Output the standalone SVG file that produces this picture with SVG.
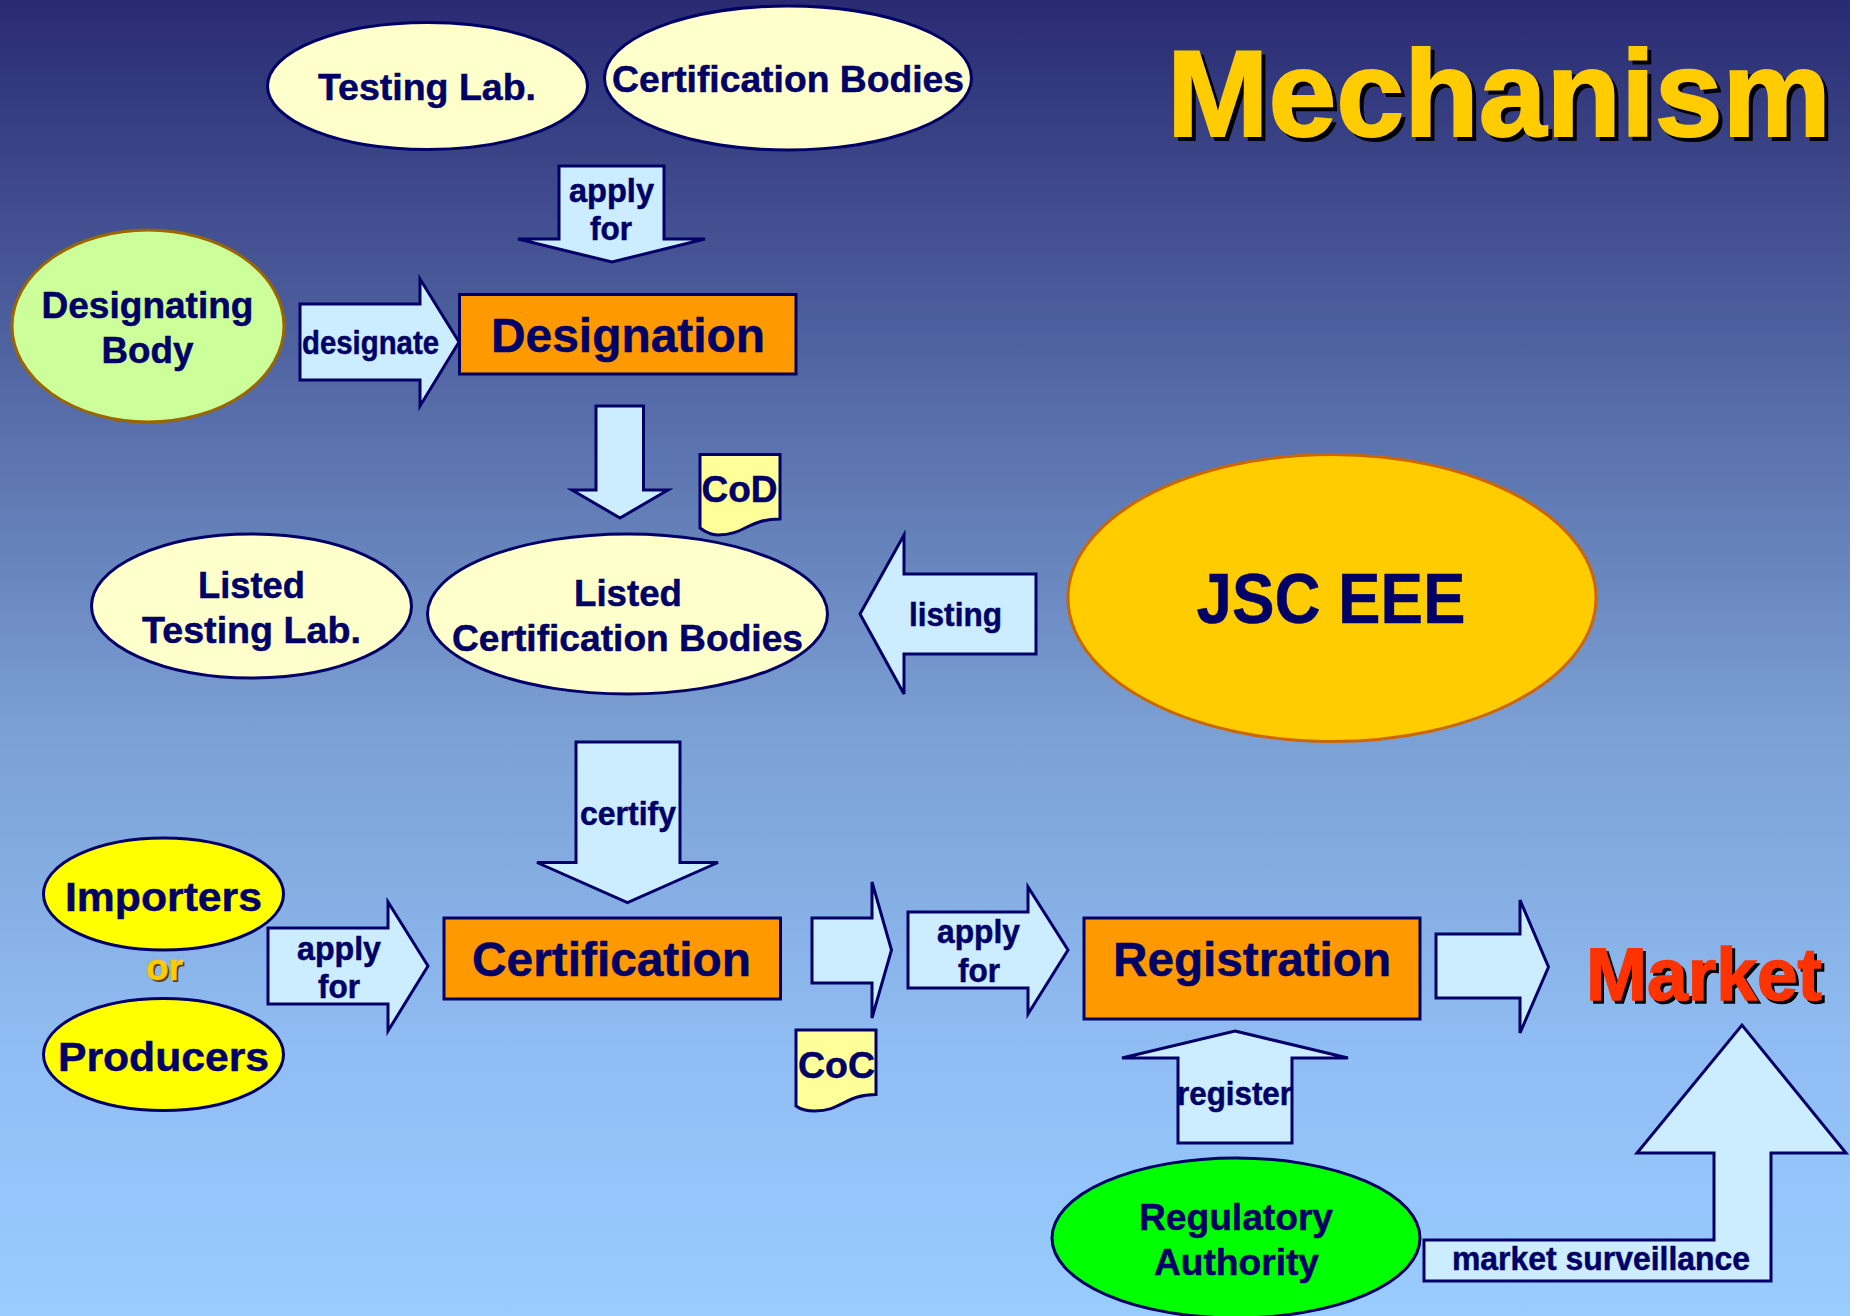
<svg xmlns="http://www.w3.org/2000/svg" width="1850" height="1316" viewBox="0 0 1850 1316">
<style>
text{font-family:"Liberation Sans",Arial,sans-serif;font-weight:700;fill:#000066;stroke:#000066;stroke-width:.5}
.s{stroke:#000066;stroke-width:3;stroke-linejoin:miter}
.ar{fill:#ccecff}
.cream{fill:#ffffcc}
.box{fill:#ff9900}
.yel{fill:#ffff00}
.doc{fill:#ffff99}
.f33{font-size:33px}.f37{font-size:37px}.f41{font-size:41px}.f48{font-size:48px}
</style>
<defs>
<linearGradient id="bg" x1="0" y1="0" x2="0" y2="1">
<stop offset="0" stop-color="#292b72"/>
<stop offset="0.55" stop-color="#7a9fd3"/>
<stop offset="0.8" stop-color="#90bdf3"/>
<stop offset="1" stop-color="#99ccff"/>
</linearGradient>
</defs>
<rect id="background" width="1850" height="1316" fill="url(#bg)"/>
<g id="connectors">
<g id="arrow-apply-1"><path class="s ar" d="M559 166H664V239H705L612 262L518 239H559Z"/><text class="f33" x="569" y="202" textLength="85" lengthAdjust="spacingAndGlyphs">apply</text><text class="f33" x="590" y="240" textLength="42" lengthAdjust="spacingAndGlyphs">for</text></g>
<g id="arrow-designate"><path class="s ar" d="M300 304H420V279L459 342L420 406V380H300Z"/><text class="f33" x="302" y="353.5" textLength="137" lengthAdjust="spacingAndGlyphs">designate</text></g>
<g id="arrow-cod"><path class="s ar" d="M596 406H643.5V490H668L620 518L572 490H596Z"/></g>
<g id="arrow-listing"><path class="s ar" d="M860 614L904 535V574H1036V654H904V694Z"/><text class="f33" x="909" y="626" textLength="93" lengthAdjust="spacingAndGlyphs">listing</text></g>
<g id="arrow-certify"><path class="s ar" d="M576 742H680V862.500H718L627.500 902.500L537 862.500H576Z"/><text class="f33" x="580" y="824.500" textLength="96" lengthAdjust="spacingAndGlyphs">certify</text></g>
<g id="arrow-apply-2"><path class="s ar" d="M268 928H388V902L428 966L388 1031V1004H268Z"/><text class="f33" x="297" y="959.500" textLength="84" lengthAdjust="spacingAndGlyphs">apply</text><text class="f33" x="318" y="997.500" textLength="42" lengthAdjust="spacingAndGlyphs">for</text></g>
<g id="arrow-coc"><path class="s ar" d="M812 918H872V882L891.500 950L872 1018V983H812Z"/></g>
<g id="arrow-apply-3"><path class="s ar" d="M908 912H1028V887L1068 950L1028 1014V988H908Z"/><text class="f33" x="937" y="943" textLength="83" lengthAdjust="spacingAndGlyphs">apply</text><text class="f33" x="958" y="982" textLength="42" lengthAdjust="spacingAndGlyphs">for</text></g>
<g id="arrow-market"><path class="s ar" d="M1436 934H1520V900L1548.500 967L1520 1033V998H1436Z"/></g>
<g id="arrow-register"><path class="s ar" d="M1235 1031L1348 1058H1292V1143H1178V1058H1122Z"/><text class="f33" x="1177" y="1104.500" textLength="115" lengthAdjust="spacingAndGlyphs">register</text></g>
<g id="arrow-surveillance"><path class="s ar" d="M1424 1240H1714V1153H1637L1742 1025L1846 1153H1771V1281H1424Z"/><text class="f33" x="1452" y="1270" textLength="298" lengthAdjust="spacingAndGlyphs">market surveillance</text></g>
</g>
<g id="title"><text x="1171" y="140" font-size="122" style="fill:#000;stroke:#000;stroke-width:2" textLength="664" lengthAdjust="spacingAndGlyphs">Mechanism</text><text x="1167" y="136" font-size="122" style="fill:#ffcc00;stroke:#ffcc00;stroke-width:2" textLength="664" lengthAdjust="spacingAndGlyphs">Mechanism</text></g>
<g id="testing-lab"><ellipse class="s cream" cx="427.500" cy="86" rx="160" ry="63.500"/><text class="f37" x="318" y="100" textLength="218" lengthAdjust="spacingAndGlyphs">Testing Lab.</text></g>
<g id="certification-bodies"><ellipse class="s cream" cx="788" cy="78" rx="183.500" ry="72"/><text class="f37" x="612" y="92" textLength="352" lengthAdjust="spacingAndGlyphs">Certification Bodies</text></g>
<g id="designating-body"><ellipse class="s" style="stroke:#996600" fill="#ccff99" cx="148" cy="326" rx="136" ry="96"/><text class="f37" x="41.500" y="318" textLength="212" lengthAdjust="spacingAndGlyphs">Designating</text><text class="f37" x="101.500" y="363" textLength="92" lengthAdjust="spacingAndGlyphs">Body</text></g>
<g id="designation"><rect class="s box" x="459.500" y="294.500" width="336.500" height="79.500"/><text class="f48" x="491" y="352" textLength="274" lengthAdjust="spacingAndGlyphs">Designation</text></g>
<g id="cod"><path class="s doc" d="M700 454.500H780V519C748 519 745 535 718 535C710 535 704 531 700 528Z"/><text class="f37" x="701.500" y="501.500" textLength="76" lengthAdjust="spacingAndGlyphs">CoD</text></g>
<g id="listed-testing-lab"><ellipse class="s cream" cx="251.500" cy="606" rx="160" ry="72"/><text class="f37" x="198" y="598" textLength="107" lengthAdjust="spacingAndGlyphs">Listed</text><text class="f37" x="142" y="643" textLength="219" lengthAdjust="spacingAndGlyphs">Testing Lab.</text></g>
<g id="listed-certification-bodies"><ellipse class="s cream" cx="627.500" cy="614" rx="200" ry="80"/><text class="f37" x="574" y="606" textLength="108" lengthAdjust="spacingAndGlyphs">Listed</text><text class="f37" x="452" y="650.500" textLength="351" lengthAdjust="spacingAndGlyphs">Certification Bodies</text></g>
<g id="jsc-eee"><ellipse class="s" style="stroke:#cc6600" fill="#ffcc00" cx="1332" cy="598" rx="264" ry="143.500"/><text x="1196.500" y="623" font-size="70" textLength="269" lengthAdjust="spacingAndGlyphs">JSC EEE</text></g>
<g id="importers"><ellipse class="s yel" cx="163.500" cy="894" rx="120" ry="56"/><text class="f41" x="65" y="911" textLength="197" lengthAdjust="spacingAndGlyphs">Importers</text></g>
<g id="or"><text class="f37" x="148" y="982" style="fill:#554400;stroke:none" textLength="37" lengthAdjust="spacingAndGlyphs">or</text><text class="f37" x="146" y="980" style="fill:#ffcc00;stroke:#ffcc00" textLength="37" lengthAdjust="spacingAndGlyphs">or</text></g>
<g id="producers"><ellipse class="s yel" cx="163.500" cy="1054.500" rx="120" ry="56"/><text class="f41" x="58" y="1071" textLength="211" lengthAdjust="spacingAndGlyphs">Producers</text></g>
<g id="certification"><rect class="s box" x="444" y="918" width="336.500" height="81"/><text class="f48" x="472" y="975.500" textLength="279" lengthAdjust="spacingAndGlyphs">Certification</text></g>
<g id="coc"><path class="s doc" d="M796 1030H876V1094.500C845 1094.500 842 1111 815 1111C807 1111 800 1109 796 1106Z"/><text class="f37" x="798" y="1078" textLength="77" lengthAdjust="spacingAndGlyphs">CoC</text></g>
<g id="registration"><rect class="s box" x="1084" y="918" width="336" height="101"/><text class="f48" x="1113" y="975.500" textLength="278" lengthAdjust="spacingAndGlyphs">Registration</text></g>
<g id="market"><text x="1589" y="1003" font-size="74" style="fill:#000;stroke:#000;stroke-width:1.5" textLength="236" lengthAdjust="spacingAndGlyphs">Market</text><text x="1586" y="1000" font-size="74" style="fill:#ff3300;stroke:#ff3300;stroke-width:1.5" textLength="236" lengthAdjust="spacingAndGlyphs">Market</text></g>
<g id="regulatory-authority"><ellipse class="s" fill="#00ff00" cx="1236" cy="1238" rx="184" ry="80"/><text class="f37" x="1139" y="1230" textLength="194" lengthAdjust="spacingAndGlyphs">Regulatory</text><text class="f37" x="1154" y="1275" textLength="165" lengthAdjust="spacingAndGlyphs">Authority</text></g>
</svg>
